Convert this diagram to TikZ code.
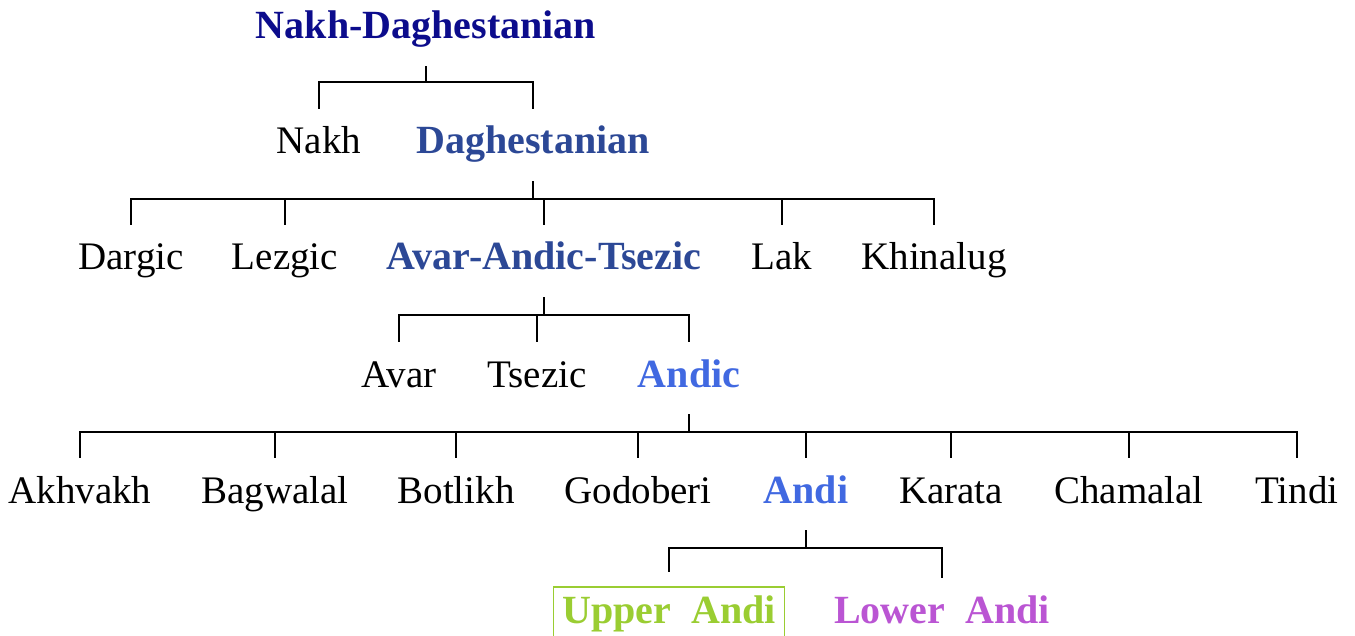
\documentclass[tikz,border=0pt]{standalone}
\usepackage{fontspec}
\setmainfont{Liberation Serif}
\definecolor{navyc}{RGB}{12,12,140}
\definecolor{dagc}{RGB}{44,72,150}
\definecolor{andc}{RGB}{65,105,225}
\definecolor{upc}{RGB}{154,205,50}
\definecolor{lowc}{RGB}{186,85,211}
\tikzset{
  lang/.style={anchor=base, inner xsep=0pt, inner ysep=9.5pt, text height=13pt, text depth=4pt,
    font=\fontsize{19.5pt}{22pt}\selectfont},
  grp/.style={lang, font=\fontsize{20pt}{22pt}\selectfont\bfseries},
  edge/.style={draw=black, line width=1pt},
}
\begin{document}
\begin{tikzpicture}[x=0.5pt,y=-0.5pt]
\useasboundingbox (0,0) rectangle (1355,636);
% row 1
\node[grp, text=navyc] (nd) at (426,39) {Nakh-Daghestanian};
% row 2
\node[lang] (nakh) at (319,154) {Nakh};
\node[grp, text=dagc] (dag) at (533,154) {Daghestanian};
% row 3
\node[lang] (dargic) at (131,270) {Dargic};
\node[lang] (lezgic) at (285,270) {Lezgic};
\node[grp, text=dagc] (aat) at (544,270) {Avar-Andic-Tsezic};
\node[lang] (lak) at (782,270) {Lak};
\node[lang] (khin) at (934,270) {Khinalug};
% row 4
\node[lang] (avar) at (399,387) {Avar};
\node[lang] (tsezic) at (537,387) {Tsezic};
\node[grp, text=andc] (andic) at (689,387) {Andic};
% row 5
\node[lang] (akh) at (80,503) {Akhvakh};
\node[lang] (bag) at (275,503) {Bagwalal};
\node[lang] (bot) at (456,503) {Botlikh};
\node[lang] (god) at (638,503) {Godoberi};
\node[grp, text=andc] (andi) at (806,503) {Andi};
\node[lang] (kar) at (951,503) {Karata};
\node[lang] (cham) at (1129,503) {Chamalal};
\node[lang] (tindi) at (1297,503) {Tindi};
% row 6
\node[grp, text=upc, draw=upc, line width=0.6pt, inner xsep=4.5pt, inner ysep=5pt] (ua) at (669,623) {Upper~~Andi};
\node[grp, text=lowc] (la) at (942,623) {Lower~~Andi};
% connectors
\foreach \c in {nakh,dag} \draw[edge] (nd.south) -- ++(0,16) -| (\c.north);
\foreach \c in {dargic,lezgic,aat,lak,khin} \draw[edge] (dag.south) -- ++(0,18) -| (\c.north);
\foreach \c in {avar,tsezic,andic} \draw[edge] (aat.south) -- ++(0,18) -| (\c.north);
\foreach \c in {akh,bag,bot,god,andi,kar,cham,tindi} \draw[edge] (andic.south) -- ++(0,18) -| (\c.north);
\draw[edge] (andi.south) -- ++(0,18) -| ([yshift=7pt]ua.north);
\draw[edge] (andi.south) -- ++(0,18) -| (la.north);
\end{tikzpicture}
\end{document}
